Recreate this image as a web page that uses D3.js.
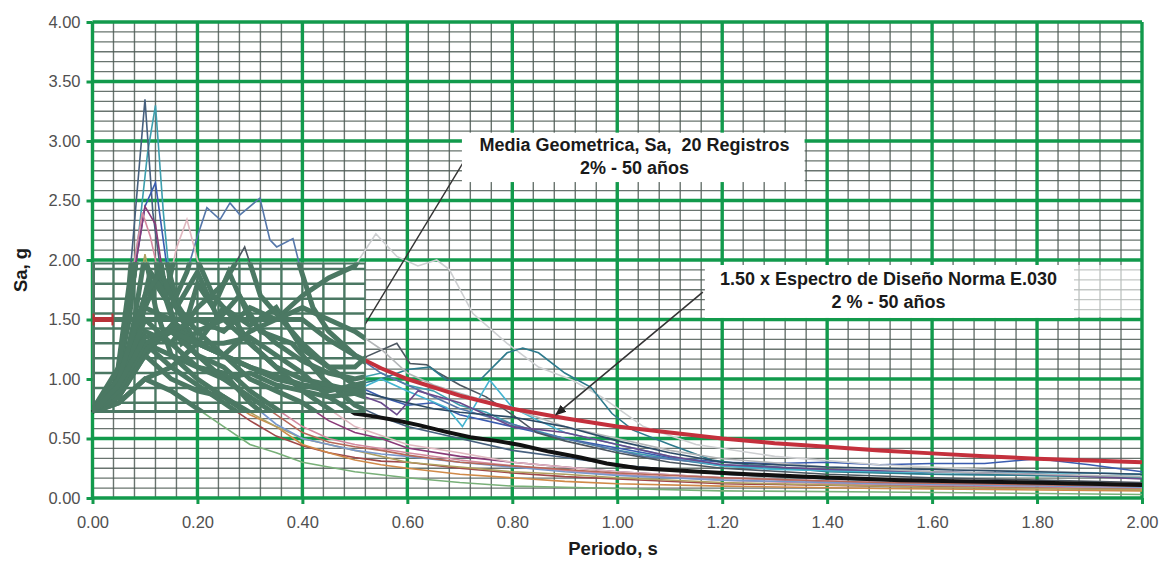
<!DOCTYPE html>
<html>
<head>
<meta charset="utf-8">
<script src="https://cdn.jsdelivr.net/npm/d3@7"></script>
<style>
  body { margin: 0; background: #fff; }
  text { font-family: "Liberation Sans", Arial, sans-serif; }
</style>
</head>
<body>
<svg id="chart" width="1159" height="565"></svg>
<script>
// ejes
var xTicks = [0, 0.2, 0.4, 0.6, 0.8, 1.0, 1.2, 1.4, 1.6, 1.8, 2.0];
var yTicks = [0, 0.5, 1.0, 1.5, 2.0, 2.5, 3.0, 3.5, 4.0];

// 20 registros [periodo, Sa]
var reg01 = [[0,0.74],[0.04,0.85],[0.07,1.5],[0.09,2.3],[0.105,2.9],[0.12,3.3],[0.135,2.4],[0.15,1.7],[0.18,1.5],[0.2,1.8],[0.23,1.6],[0.26,1.9],[0.3,1.5],[0.35,1.3],[0.4,1.15],[0.45,1.05],[0.5,1.0],[0.55,1.05],[0.6,0.95],[0.65,0.9],[0.7,0.78],[0.75,0.72],[0.8,0.62],[0.9,0.5],[1.0,0.4],[1.1,0.33],[1.2,0.27],[1.4,0.23],[1.6,0.2],[1.8,0.19],[2.0,0.18]];
var reg02 = [[0,0.72],[0.04,0.8],[0.07,1.8],[0.1,3.35],[0.115,2.4],[0.13,1.9],[0.16,1.6],[0.2,1.9],[0.24,1.5],[0.28,1.7],[0.32,1.4],[0.38,1.3],[0.44,1.0],[0.5,0.78],[0.55,0.68],[0.6,0.6],[0.7,0.5],[0.8,0.4],[0.9,0.34],[1.0,0.28],[1.2,0.2],[1.4,0.16],[1.6,0.14],[1.8,0.12],[2.0,0.1]];
var reg03 = [[0,0.76],[0.05,1.0],[0.08,1.9],[0.1,2.45],[0.12,2.65],[0.14,2.0],[0.17,1.5],[0.2,1.3],[0.25,1.6],[0.3,1.45],[0.35,1.6],[0.4,1.25],[0.45,1.1],[0.5,0.95],[0.55,0.85],[0.6,0.78],[0.65,0.8],[0.7,0.7],[0.8,0.6],[0.9,0.5],[1.0,0.42],[1.1,0.34],[1.2,0.3],[1.3,0.29],[1.4,0.3],[1.5,0.28],[1.6,0.29],[1.7,0.29],[1.8,0.33],[1.9,0.28],[2.0,0.22]];
var reg04 = [[0,0.73],[0.05,0.9],[0.09,1.5],[0.12,1.8],[0.15,1.6],[0.18,1.9],[0.2,2.2],[0.218,2.44],[0.243,2.34],[0.262,2.48],[0.281,2.38],[0.319,2.52],[0.338,2.17],[0.351,2.11],[0.382,2.18],[0.395,1.95],[0.42,1.6],[0.45,1.4],[0.5,1.2],[0.55,1.05],[0.6,0.95],[0.65,0.85],[0.7,0.75],[0.78,0.65],[0.85,0.55],[0.95,0.45],[1.05,0.35],[1.2,0.28],[1.4,0.24],[1.6,0.22],[1.8,0.2],[2.0,0.17]];
var reg05 = [[0,0.75],[0.05,1.0],[0.08,1.9],[0.1,2.45],[0.12,2.3],[0.14,1.7],[0.17,1.3],[0.2,1.4],[0.25,1.2],[0.3,1.0],[0.35,0.9],[0.4,0.8],[0.45,0.65],[0.5,0.55],[0.55,0.5],[0.6,0.42],[0.7,0.35],[0.8,0.3],[0.9,0.26],[1.0,0.22],[1.2,0.17],[1.4,0.14],[1.6,0.12],[1.8,0.11],[2.0,0.1]];
var reg06 = [[0,0.74],[0.05,1.1],[0.08,2.0],[0.095,2.4],[0.11,2.2],[0.13,1.8],[0.16,1.4],[0.2,1.2],[0.25,1.1],[0.3,0.9],[0.35,0.75],[0.4,0.6],[0.45,0.5],[0.5,0.45],[0.6,0.38],[0.7,0.32],[0.8,0.27],[0.9,0.23],[1.0,0.2],[1.2,0.15],[1.5,0.11],[2.0,0.08]];
var reg07 = [[0,0.73],[0.05,0.9],[0.08,1.3],[0.11,1.9],[0.14,1.7],[0.16,2.1],[0.18,2.34],[0.2,2.0],[0.23,1.7],[0.27,1.5],[0.3,1.3],[0.35,1.1],[0.4,0.9],[0.45,0.75],[0.5,0.6],[0.6,0.45],[0.7,0.38],[0.8,0.3],[1.0,0.22],[1.2,0.17],[1.5,0.13],[2.0,0.09]];
var reg08 = [[0,0.72],[0.05,0.8],[0.1,1.0],[0.15,1.1],[0.2,1.3],[0.25,1.2],[0.3,1.4],[0.35,1.5],[0.4,1.7],[0.45,1.85],[0.5,1.95],[0.54,2.22],[0.58,2.03],[0.62,1.95],[0.656,2.0],[0.68,1.92],[0.725,1.55],[0.79,1.3],[0.85,1.1],[0.915,0.99],[0.97,0.85],[1.05,0.6],[1.15,0.45],[1.3,0.35],[1.5,0.28],[1.7,0.24],[2.0,0.2]];
var reg09 = [[0,0.75],[0.05,0.95],[0.1,1.4],[0.15,1.3],[0.2,1.6],[0.25,1.8],[0.29,2.11],[0.32,1.7],[0.36,1.5],[0.4,1.3],[0.45,1.1],[0.5,1.1],[0.523,1.19],[0.58,1.3],[0.605,1.13],[0.637,1.12],[0.66,1.05],[0.7,0.95],[0.75,0.85],[0.8,0.7],[0.846,0.55],[0.9,0.48],[1.0,0.38],[1.1,0.3],[1.2,0.25],[1.4,0.2],[1.6,0.17],[1.8,0.15],[2.0,0.13]];
var reg10 = [[0,0.74],[0.05,0.9],[0.1,1.6],[0.15,1.5],[0.2,1.3],[0.25,1.2],[0.3,1.1],[0.35,1.0],[0.4,0.95],[0.45,0.9],[0.5,0.95],[0.55,1.0],[0.6,1.08],[0.643,1.1],[0.675,0.99],[0.738,0.99],[0.79,1.22],[0.82,1.26],[0.85,1.22],[0.9,1.05],[0.95,0.93],[0.99,0.71],[1.03,0.57],[1.1,0.45],[1.18,0.32],[1.25,0.28],[1.4,0.22],[1.6,0.2],[1.8,0.19],[2.0,0.17]];
var reg11 = [[0,0.73],[0.05,0.85],[0.1,1.2],[0.15,1.45],[0.2,1.3],[0.25,1.2],[0.3,1.1],[0.4,0.95],[0.5,0.9],[0.55,1.0],[0.6,0.9],[0.675,0.76],[0.705,0.6],[0.757,0.99],[0.8,0.76],[0.85,0.65],[0.9,0.55],[1.0,0.45],[1.1,0.35],[1.2,0.27],[1.3,0.24],[1.5,0.22],[1.7,0.21],[1.9,0.21],[2.0,0.2]];
var reg12 = [[0,0.72],[0.05,0.88],[0.1,1.3],[0.15,1.2],[0.2,1.1],[0.25,1.0],[0.3,1.05],[0.35,0.95],[0.4,0.9],[0.45,0.85],[0.5,0.88],[0.55,0.8],[0.58,0.7],[0.62,0.9],[0.7,0.8],[0.8,0.6],[0.9,0.55],[1.0,0.45],[1.1,0.35],[1.2,0.28],[1.4,0.24],[1.6,0.22],[1.8,0.2],[2.0,0.16]];
var reg13 = [[0,0.75],[0.05,0.9],[0.1,1.3],[0.15,1.1],[0.2,0.95],[0.25,0.8],[0.3,0.65],[0.35,0.52],[0.4,0.44],[0.45,0.38],[0.5,0.34],[0.55,0.31],[0.6,0.3],[0.7,0.25],[0.8,0.21],[0.9,0.18],[1.0,0.16],[1.2,0.12],[1.5,0.1],[2.0,0.07]];
var reg14 = [[0,0.74],[0.05,0.85],[0.1,1.2],[0.15,1.0],[0.2,0.9],[0.25,0.85],[0.3,0.7],[0.35,0.6],[0.4,0.45],[0.45,0.38],[0.5,0.32],[0.55,0.28],[0.6,0.25],[0.7,0.2],[0.8,0.17],[0.9,0.14],[1.0,0.12],[1.2,0.1],[1.5,0.08],[2.0,0.06]];
var reg15 = [[0,0.73],[0.05,0.9],[0.08,1.5],[0.1,2.05],[0.12,1.6],[0.15,1.2],[0.2,1.0],[0.25,0.85],[0.3,0.72],[0.35,0.6],[0.4,0.5],[0.5,0.4],[0.6,0.3],[0.7,0.26],[0.8,0.22],[0.9,0.2],[1.0,0.17],[1.2,0.13],[1.4,0.11],[1.6,0.09],[1.8,0.08],[2.0,0.07]];
var reg16 = [[0,0.72],[0.05,0.8],[0.1,1.0],[0.15,0.9],[0.2,0.75],[0.25,0.6],[0.3,0.45],[0.35,0.38],[0.4,0.3],[0.5,0.22],[0.6,0.17],[0.7,0.13],[0.8,0.1],[1.0,0.08],[1.2,0.06],[1.5,0.05],[2.0,0.03]];
var reg17 = [[0,0.75],[0.05,0.95],[0.1,1.5],[0.15,1.3],[0.2,1.1],[0.25,1.05],[0.3,0.8],[0.35,0.62],[0.4,0.5],[0.45,0.45],[0.5,0.4],[0.55,0.37],[0.6,0.35],[0.7,0.3],[0.8,0.26],[0.9,0.22],[1.0,0.19],[1.2,0.15],[1.5,0.12],[2.0,0.09]];
var reg18 = [[0,0.73],[0.05,0.85],[0.1,1.25],[0.15,1.4],[0.2,1.2],[0.25,1.0],[0.3,0.85],[0.35,0.7],[0.4,0.55],[0.45,0.47],[0.5,0.43],[0.55,0.4],[0.6,0.36],[0.7,0.3],[0.8,0.27],[0.9,0.24],[1.0,0.21],[1.2,0.17],[1.5,0.13],[2.0,0.1]];
var reg19 = [[0,0.72],[0.05,0.9],[0.1,1.3],[0.15,1.4],[0.2,1.5],[0.25,1.4],[0.3,1.6],[0.35,1.5],[0.4,1.6],[0.45,1.5],[0.5,1.4],[0.55,1.25],[0.6,1.05],[0.65,0.95],[0.7,0.88],[0.8,0.75],[0.9,0.6],[1.0,0.5],[1.1,0.4],[1.2,0.33],[1.4,0.26],[1.6,0.22],[1.8,0.2],[2.0,0.18]];
var reg20 = [[0,0.74],[0.05,1.0],[0.1,1.7],[0.13,1.9],[0.16,1.6],[0.2,1.4],[0.25,1.5],[0.3,1.3],[0.35,1.1],[0.4,1.0],[0.45,0.95],[0.5,0.9],[0.55,0.85],[0.6,0.8],[0.65,0.75],[0.7,0.72],[0.8,0.68],[0.9,0.6],[1.0,0.48],[1.1,0.38],[1.2,0.3],[1.4,0.26],[1.6,0.24],[1.8,0.22],[2.0,0.2]];
var registros = [reg01,reg02,reg03,reg04,reg05,reg06,reg07,reg08,reg09,reg10,reg11,reg12,reg13,reg14,reg15,reg16,reg17,reg18,reg19,reg20];
var colores = ["#3d9fae","#46607e","#3a5cb0","#5577aa","#8a3a78","#d48aa0","#e0b8c0","#cdcfd1","#4c5660","#2d7a8c",
               "#44b4d0","#6a4a8c","#a04848","#d08a48","#b0a060","#78b078","#7898cc","#b86858","#b4b6b8","#2c4a66"];

// media geometrica
var media = [[0,0.72],[0.05,0.95],[0.1,1.35],[0.15,1.4],[0.2,1.3],[0.25,1.3],[0.3,1.35],[0.35,1.2],[0.4,1.05],[0.45,0.85],[0.5,0.71],[0.53,0.69],[0.576,0.655],[0.624,0.61],[0.67,0.56],[0.72,0.51],[0.77,0.48],[0.815,0.445],[0.87,0.39],[0.93,0.34],[0.98,0.29],[1.04,0.25],[1.1,0.235],[1.157,0.22],[1.25,0.2],[1.35,0.18],[1.54,0.15],[1.73,0.135],[1.9,0.12],[2.0,0.11]];
// 1.50 x espectro E.030
var norma = [[0,1.5],[0.4,1.5],[0.45,1.33],[0.5,1.2],[0.55,1.09],[0.6,1.0],[0.7,0.86],[0.8,0.75],[0.9,0.67],[1.0,0.6],[1.1,0.55],[1.2,0.5],[1.3,0.46],[1.4,0.43],[1.5,0.4],[1.6,0.375],[1.7,0.35],[1.8,0.33],[1.9,0.315],[2.0,0.3]];

var svg = d3.select("#chart");
var x = d3.scaleLinear().domain([0, 2]).range([92.5, 1142]);
var y = d3.scaleLinear().domain([0, 4]).range([498, 22]);
var line = d3.line().x(function(d){ return x(d[0]); }).y(function(d){ return y(d[1]); });

// minor grid
var minorX = d3.range(0, 2.0001, 0.04).filter(function(v){ return Math.abs(v/0.2 - Math.round(v/0.2)) > 0.01; });
var minorY = d3.range(0, 4.0001, 0.5/6).filter(function(v){ return Math.abs(v/0.5 - Math.round(v/0.5)) > 0.01; });
var grid = svg.append("g");
grid.selectAll(".mx").data(minorX).enter().append("line")
  .attr("x1", x).attr("x2", x).attr("y1", y(0)).attr("y2", y(4))
  .attr("stroke", "#4f5c56").attr("stroke-width", 1.4).attr("opacity", 0.85);
grid.selectAll(".my").data(minorY).enter().append("line")
  .attr("x1", x(0)).attr("x2", x(2)).attr("y1", y).attr("y2", y)
  .attr("stroke", "#4f5c56").attr("stroke-width", 1.4).attr("opacity", 0.85);
grid.selectAll(".MX").data(xTicks).enter().append("line")
  .attr("x1", x).attr("x2", x).attr("y1", y(0)).attr("y2", y(4))
  .attr("stroke", "#129a4c").attr("stroke-width", 3.4);
grid.selectAll(".MY").data(yTicks).enter().append("line")
  .attr("x1", x(0)).attr("x2", x(2)).attr("y1", y).attr("y2", y)
  .attr("stroke", "#129a4c").attr("stroke-width", 3.4);

svg.append("defs").append("marker").attr("id", "ah")
  .attr("viewBox", "0 0 10 10").attr("refX", 9).attr("refY", 5)
  .attr("markerWidth", 7).attr("markerHeight", 7).attr("orient", "auto")
  .append("path").attr("d", "M0,1 L10,5 L0,9 z").attr("fill", "#222");

// records
svg.append("g").selectAll("path").data(registros).enter().append("path")
  .attr("d", line).attr("fill", "none")
  .attr("stroke", function(d, i){ return colores[i]; })
  .attr("stroke-width", 1.6);

svg.append("path").datum(norma).attr("d", line).attr("fill", "none")
  .attr("stroke", "#c4303c").attr("stroke-width", 4);
svg.append("path").datum(media).attr("d", line).attr("fill", "none")
  .attr("stroke", "#111").attr("stroke-width", 4);

// arrows
svg.append("line")
  .attr("x1", x(0.719)).attr("y1", y(2.91)).attr("x2", x(0.47)).attr("y2", y(1.1))
  .attr("stroke", "#333").attr("stroke-width", 1.4);
svg.append("line")
  .attr("x1", x(1.163)).attr("y1", y(1.73)).attr("x2", x(0.883)).attr("y2", y(0.70))
  .attr("stroke", "#333").attr("stroke-width", 1.6).attr("marker-end", "url(#ah)");

// posterized patch
var pT0 = 0, pT1 = 0.52, pS0 = 0.715, pS1 = 1.98;
svg.select("defs").append("clipPath").attr("id", "patch")
  .append("rect").attr("x", x(pT0)).attr("y", y(pS1))
  .attr("width", x(pT1) - x(pT0)).attr("height", y(pS0) - y(pS1));
var patch = svg.append("g").attr("clip-path", "url(#patch)");
var pc = "#4b7863";
patch.append("rect").attr("x", x(pT0)).attr("y", y(pS1))
  .attr("width", x(pT1) - x(pT0)).attr("height", y(pS0) - y(pS1)).attr("fill", "#fff");
patch.selectAll(".pv").data(d3.range(0, 0.53, 0.04)).enter().append("line")
  .attr("x1", x).attr("x2", x).attr("y1", y(pS0)).attr("y2", y(pS1))
  .attr("stroke", pc).attr("stroke-width", 2.4);
patch.selectAll(".ph").data(d3.range(0.8, 1.99, 0.125)).enter().append("line")
  .attr("x1", x(pT0)).attr("x2", x(pT1)).attr("y1", y).attr("y2", y)
  .attr("stroke", pc).attr("stroke-width", 2.4);
patch.selectAll(".pl").data(registros.concat([media, norma])).enter().append("path")
  .attr("d", line).attr("fill", "none").attr("stroke", pc).attr("stroke-width", 5);
patch.append("line").attr("x1", x(pT0)).attr("x2", x(pT1)).attr("y1", y(pS0)).attr("y2", y(pS0))
  .attr("stroke", pc).attr("stroke-width", 6);
patch.append("line").attr("x1", x(pT0)).attr("x2", x(pT0)).attr("y1", y(pS0)).attr("y2", y(pS1))
  .attr("stroke", pc).attr("stroke-width", 5);
patch.append("line").attr("x1", x(pT0)).attr("x2", x(pT1)).attr("y1", y(pS1)).attr("y2", y(pS1))
  .attr("stroke", pc).attr("stroke-width", 4);
// red I-beam
var ib = svg.append("g").attr("stroke", "#b83238");
ib.append("line").attr("x1", x(0)).attr("x2", x(0.04)).attr("y1", y(1.5)).attr("y2", y(1.5)).attr("stroke-width", 5);
ib.selectAll(".cap").data([0.002, 0.038]).enter().append("line")
  .attr("x1", x).attr("x2", x).attr("y1", y(1.55)).attr("y2", y(1.45)).attr("stroke-width", 2);

// faint area right of box 2
svg.append("rect").attr("x", x(1.871)).attr("y", y(1.958))
  .attr("width", x(2.0) - x(1.871) - 2).attr("height", y(1.52) - y(1.958))
  .attr("fill", "#fff").attr("opacity", 0.6);

// annotation boxes
function box(t0, t1, s0, s1, lines, tc, s1a, s2a) {
  svg.append("rect").attr("x", x(t0)).attr("y", y(s0))
    .attr("width", x(t1) - x(t0)).attr("height", y(s1) - y(s0)).attr("fill", "#fff");
  [s1a, s2a].forEach(function(sv, i){
    svg.append("text").attr("x", x(tc)).attr("y", y(sv)).attr("text-anchor", "middle")
      .attr("dominant-baseline", "middle").style("white-space", "pre")
      .attr("font-size", 18).attr("font-weight", "bold").attr("fill", "#1a1a1a").text(lines[i]);
  });
}
box(0.704, 1.357, 3.07, 2.655, ["Media Geometrica, Sa,  20 Registros", "2% - 50 años"], 1.033, 2.955, 2.76);
box(1.167, 1.871, 1.958, 1.513, ["1.50 x Espectro de Diseño Norma E.030", "2 % - 50 años"], 1.517, 1.83, 1.64);

// axes
var xAxis = svg.append("g").attr("transform", "translate(0," + y(0) + ")")
  .call(d3.axisBottom(x).tickValues(xTicks).tickFormat(d3.format(".2f")).tickSize(6).tickPadding(12));
var yAxis = svg.append("g").attr("transform", "translate(" + x(0) + ",0)")
  .call(d3.axisLeft(y).tickValues(yTicks).tickFormat(d3.format(".2f")).tickSize(6).tickPadding(6));
[xAxis, yAxis].forEach(function(a){
  a.select(".domain").remove();
  a.selectAll("line").attr("stroke", "#129a4c").attr("stroke-width", 3);
  a.selectAll("text").attr("font-size", 16.5).attr("fill", "#505050")
    .style("font-family", "'Liberation Sans', Arial, sans-serif");
});

svg.append("text").attr("x", 613).attr("y", 555).attr("text-anchor", "middle")
  .attr("font-size", 18.5).attr("font-weight", "bold").attr("fill", "#1a1a1a").text("Periodo, s");
svg.append("text").attr("transform", "translate(27,270) rotate(-90)").attr("text-anchor", "middle")
  .attr("font-size", 18.5).attr("font-weight", "bold").attr("fill", "#1a1a1a").text("Sa, g");
</script>
</body>
</html>
